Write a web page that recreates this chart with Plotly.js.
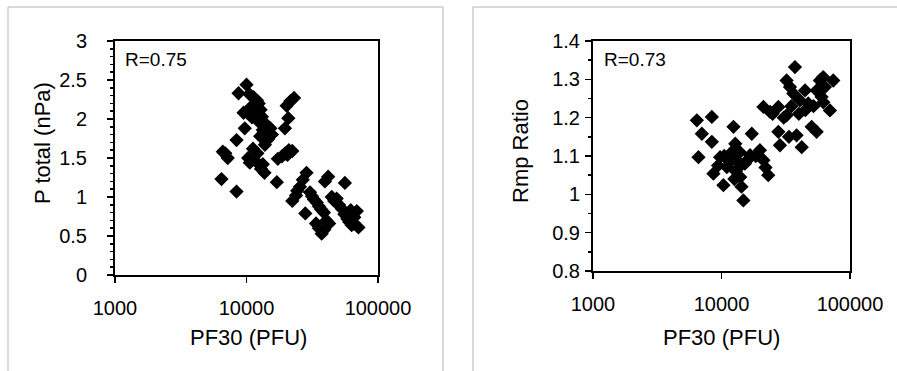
<!DOCTYPE html>
<html>
<head>
<meta charset="utf-8">
<script src="https://cdn.plot.ly/plotly-3.0.1.min.js"></script>
<style>
  html, body { margin: 0; padding: 0; background: #ffffff; }
  #chart { width: 897px; height: 371px; }
</style>
</head>
<body>
<div id="chart"></div>
<script>
// PF30 proton fluence vs. total pressure (left panel)
const pf30Pressure = [
  8700, 10000, 10500, 11300, 12000, 12400, 10900, 10200, 9500, 11000,
  11600, 12800, 13100, 12300, 13600, 14300, 15200, 14100, 13300, 15600,
  14600, 13800, 12700, 9700, 8400, 11200, 12100, 10300, 11900, 10600,
  13300, 13700, 12900, 6900, 7200, 6600, 6450, 8400,
  17000, 17300, 18600, 19700, 21000, 22300, 20500, 23000, 21600, 20200,
  20800, 19600,
  28600, 26800, 25500, 24300, 23800, 22300, 28000, 30400, 31500, 32500,
  34200, 35500, 37000, 38800, 33800, 35500, 37300, 39000, 40500, 42500,
  41800, 39500, 44500, 46500, 48500, 50500, 53000, 55500, 56000, 58500,
  60500, 63000, 62000, 66000, 69000, 71000, 65000
];
const pTotal = [
  2.33, 2.44, 2.32, 2.28, 2.24, 2.20, 2.16, 2.10, 2.08, 2.02,
  2.07, 2.12, 2.03, 1.97, 1.95, 1.92, 1.88, 1.83, 1.86, 1.80,
  1.74, 1.67, 1.78, 1.88, 1.73, 1.62, 1.56, 1.50, 1.45, 1.44,
  1.42, 1.31, 1.36, 1.56, 1.50, 1.58, 1.23, 1.07,
  1.19, 1.49, 1.52, 1.56, 1.60, 1.59, 1.54, 2.27, 2.23, 2.17,
  2.01, 1.88,
  1.31, 1.22, 1.13, 1.08, 1.02, 0.95, 0.79, 1.06, 1.01, 0.97,
  0.93, 0.88, 0.84, 0.80, 0.66, 0.60, 0.53, 0.58, 0.70, 0.66,
  1.26, 1.20, 1.00, 0.95, 0.98, 0.90, 0.85, 0.78, 1.18, 0.72,
  0.68, 0.64, 0.83, 0.74, 0.82, 0.61, 0.66
];

// PF30 proton fluence vs. magnetopause standoff ratio (right panel)
const pf30Rmp = [
  6430, 6620, 7030, 8410, 8410, 8650, 9750, 10350, 11000, 10500,
  9400, 11600, 12000, 12400, 12800, 13200, 12900, 13600, 12600, 14000,
  14800, 14300, 15200, 13900, 16000, 17200, 16700, 18500, 19900, 21200,
  22000, 23100, 21200, 23900, 25000, 27700, 27700, 28500, 30500, 32100,
  34100, 37300, 36200, 32100, 35000, 33500, 40800, 38400, 42100, 44700,
  47300, 50300, 55000, 55000, 58300, 61900, 63800, 60100, 74100, 69800,
  52000, 45000, 40000, 62000
];
const rmpRatio = [
  1.193, 1.097, 1.158, 1.202, 1.137, 1.054, 1.097, 1.024, 1.071, 1.100,
  1.075, 1.085, 1.110, 1.176, 1.132, 1.089, 1.060, 1.070, 1.040, 1.045,
  0.984, 1.020, 1.080, 1.110, 1.090, 1.158, 1.102, 1.100, 1.115, 1.089,
  1.070, 1.050, 1.228, 1.215, 1.210, 1.228, 1.163, 1.128, 1.200, 1.297,
  1.280, 1.332, 1.263, 1.206, 1.230, 1.150, 1.245, 1.154, 1.123, 1.271,
  1.237, 1.176, 1.163, 1.271, 1.297, 1.306, 1.280, 1.254, 1.297, 1.219,
  1.230, 1.220, 1.210, 1.240
];

// Axis labelling
const logMajorTicks = [1000, 10000, 100000];
const logMajorText = ['1000', '10000', '100000'];
const logMinorTicks = [2000, 3000, 4000, 5000, 6000, 7000, 8000, 9000,
                       20000, 30000, 40000, 50000, 60000, 70000, 80000, 90000];
const correlationText = ['R=0.75', 'R=0.73'];
const xTitle = 'PF30 (PFU)';
const yTitles = ['P total (nPa)', 'Rmp Ratio'];

const W = 897, H = 371;
const px = v => v / W;
const py = v => 1 - v / H;

const font = 'Arial, "Liberation Sans", sans-serif';

const markerStyle = { symbol: 'diamond', size: 11, color: '#000000', line: { width: 0 } };

const traces = [
  { x: pf30Pressure, y: pTotal, type: 'scatter', mode: 'markers',
    marker: markerStyle, xaxis: 'x', yaxis: 'y', hoverinfo: 'x+y', cliponaxis: false },
  { x: pf30Rmp, y: rmpRatio, type: 'scatter', mode: 'markers',
    marker: markerStyle, xaxis: 'x2', yaxis: 'y2', hoverinfo: 'x+y', cliponaxis: false }
];

function logAxis(domain, anchor) {
  return {
    domain: domain, anchor: anchor, type: 'log', range: [3, 5],
    tickmode: 'array', tickvals: logMajorTicks, ticktext: logMajorText,
    ticks: 'outside', ticklen: 6, tickwidth: 1.5, tickcolor: '#000',
    showline: true, mirror: true, linecolor: '#000', linewidth: 2,
    showgrid: false, zeroline: false, fixedrange: true,
    ticklabelstandoff: 8,
    tickfont: { family: font, size: 20, color: '#000' }
  };
}
function logInnerTicks(overlay, anchor) {
  return {
    overlaying: overlay, anchor: anchor, type: 'log', range: [3, 5],
    tickmode: 'array', tickvals: logMajorTicks.concat(logMinorTicks),
    ticks: 'inside', ticklen: 5, tickwidth: 1.5, tickcolor: '#000',
    showticklabels: false, showline: false, showgrid: false, zeroline: false,
    fixedrange: true
  };
}
function linAxis(domain, anchor, range, dtick, minorStep, standoff) {
  return {
    domain: domain, anchor: anchor, range: range,
    tickmode: 'linear', tick0: range[0], dtick: dtick,
    ticks: 'outside', ticklen: 6, tickwidth: 1.5, tickcolor: '#000',
    minor: { tickmode: 'linear', tick0: range[0], dtick: minorStep, ticks: 'outside', ticklen: 3, tickwidth: 1.5, tickcolor: '#000' },
    showline: true, mirror: true, linecolor: '#000', linewidth: 2,
    showgrid: false, zeroline: false, fixedrange: true,
    ticklabelstandoff: standoff,
    tickfont: { family: font, size: 20, color: '#000' }
  };
}
function linInnerTicks(overlay, anchor, range, minorStep) {
  return {
    overlaying: overlay, anchor: anchor, range: range,
    tickmode: 'linear', tick0: range[0], dtick: minorStep,
    ticks: 'inside', ticklen: 3, tickwidth: 1.5, tickcolor: '#000',
    showticklabels: false, showline: false, showgrid: false, zeroline: false,
    fixedrange: true
  };
}

const leftX = [px(115), px(378)];
const leftY = [py(275), py(41)];
const rightX = [px(593), px(850)];
const rightY = [py(271), py(41)];

const layout = {
  width: W, height: H,
  margin: { l: 0, r: 0, t: 0, b: 0 },
  paper_bgcolor: '#ffffff', plot_bgcolor: '#ffffff',
  showlegend: false,
  font: { family: font, color: '#000' },
  xaxis: logAxis(leftX, 'y'),
  yaxis: linAxis(leftY, 'x', [0, 3], 0.5, 0.1, 16),
  xaxis2: logAxis(rightX, 'y2'),
  yaxis2: linAxis(rightY, 'x2', [0.8, 1.4], 0.1, 0.05, 1),
  xaxis3: logInnerTicks('x', 'y'),
  yaxis3: linInnerTicks('y', 'x', [0, 3], 0.1),
  xaxis4: logInnerTicks('x2', 'y2'),
  yaxis4: linInnerTicks('y2', 'x2', [0.8, 1.4], 0.05),
  shapes: [
    // panel frames
    { type: 'rect', xref: 'paper', yref: 'paper', x0: px(8), x1: px(443), y0: -0.1, y1: py(7),
      line: { color: '#b4b4b4', width: 1 }, layer: 'below' },
    { type: 'rect', xref: 'paper', yref: 'paper', x0: px(473), x1: 1.1, y0: -0.1, y1: py(7),
      line: { color: '#b4b4b4', width: 1 }, layer: 'below' }
  ],
  annotations: [
    { text: correlationText[0], xref: 'paper', yref: 'paper', x: px(123), y: py(60),
      xanchor: 'left', yanchor: 'middle', showarrow: false, font: { family: font, size: 19 } },
    { text: correlationText[1], xref: 'paper', yref: 'paper', x: px(602), y: py(60),
      xanchor: 'left', yanchor: 'middle', showarrow: false, font: { family: font, size: 19 } },
    { text: xTitle, xref: 'paper', yref: 'paper', x: px(248), y: py(337),
      xanchor: 'center', yanchor: 'middle', showarrow: false, font: { family: font, size: 22 } },
    { text: xTitle, xref: 'paper', yref: 'paper', x: px(721), y: py(337),
      xanchor: 'center', yanchor: 'middle', showarrow: false, font: { family: font, size: 22 } },
    { text: yTitles[0], xref: 'paper', yref: 'paper', x: px(43), y: py(143), textangle: -90,
      xanchor: 'center', yanchor: 'middle', showarrow: false, font: { family: font, size: 22 } },
    { text: yTitles[1], xref: 'paper', yref: 'paper', x: px(520), y: py(151), textangle: -90,
      xanchor: 'center', yanchor: 'middle', showarrow: false, font: { family: font, size: 22 } }
  ]
};

Plotly.newPlot('chart', traces, layout, { displayModeBar: false, staticPlot: true });
</script>
</body>
</html>
